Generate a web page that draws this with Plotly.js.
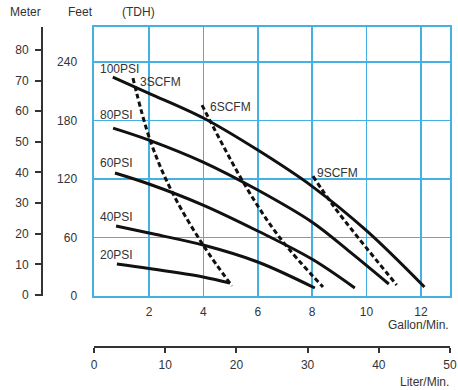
<!DOCTYPE html>
<html><head><meta charset="utf-8">
<script src="https://cdn.plot.ly/plotly-3.0.1.min.js"></script>
<style>html,body{margin:0;padding:0;background:#fff}#chart{width:458px;height:390px}</style>
</head><body><div id="chart"></div>
<script>
// ---- axis ticks ----
const gallonTicks = [2, 4, 6, 8, 10, 12];
const feetTicks = [0, 60, 120, 180, 240];
const meterTicks = [0, 10, 20, 30, 40, 50, 60, 70, 80];
const literTicks = [0, 10, 20, 30, 40, 50];

// ---- performance curves (x: gallon/min, y: feet TDH) ----
const psiNames = ['100PSI', '80PSI', '60PSI', '40PSI', '20PSI'];
const psi100Gpm = [0.67, 2.0, 4.0, 6.0, 8.0, 10.0, 12.13];
const psi100Ft  = [224.6, 208, 182.6, 149.7, 112.5, 67, 9.2];
const psi80Gpm  = [0.68, 2.0, 3.99, 6.0, 7.99, 9.4, 10.82];
const psi80Ft   = [172.3, 160, 137.4, 108.7, 75.9, 45, 12.3];
const psi60Gpm  = [0.75, 2.0, 3.99, 6.0, 7.99, 9.57];
const psi60Ft   = [126.2, 114.9, 93.3, 66.7, 37.9, 8.2];
const psi40Gpm  = [0.79, 2.0, 3.99, 6.0, 8.1];
const psi40Ft   = [71.8, 64.6, 52.3, 34.9, 8.2];
const psi20Gpm  = [0.82, 2.0, 3.99, 4.98];
const psi20Ft   = [32.8, 28.2, 19.5, 13.3];

// ---- air consumption lines ----
const scfmNames = ['3SCFM', '6SCFM', '9SCFM'];
const scfm3Gpm = [1.41, 2.04, 2.85, 3.99, 5.05];
const scfm3Ft  = [223.6, 160, 106.7, 52.3, 10.3];
const scfm6Gpm = [3.95, 5.53, 6.82, 8.4];
const scfm6Ft  = [195.9, 113.8, 59.5, 9.2];
const scfm9Gpm = [8.03, 8.84, 11.11];
const scfm9Ft  = [123, 90.3, 11.3];

const psiX = [psi100Gpm, psi80Gpm, psi60Gpm, psi40Gpm, psi20Gpm];
const psiY = [psi100Ft, psi80Ft, psi60Ft, psi40Ft, psi20Ft];
const scfmX = [scfm3Gpm, scfm6Gpm, scfm9Gpm];
const scfmY = [scfm3Ft, scfm6Ft, scfm9Ft];

const W = 458, H = 390;
const M = {l: 10, r: 8, t: 10, b: 10};
const PW = W - M.l - M.r, PH = H - M.t - M.b;
const px = x => (x - M.l) / PW;
const py = y => (H - M.b - y) / PH;

const FONT = 'Arial, "Liberation Sans", sans-serif';
const TXT = '#333';
const GRID = '#45b0e3';

const traces = [];
psiX.forEach((xs, i) => traces.push({
  x: xs, y: psiY[i], mode: 'lines', name: psiNames[i],
  line: {color: '#111', width: 3, shape: 'spline', smoothing: 1},
  hoverinfo: 'skip', showlegend: false
}));
scfmX.forEach((xs, i) => traces.push({
  x: xs, y: scfmY[i], mode: 'lines', name: scfmNames[i],
  line: {color: '#111', width: 3, dash: '5px,3px', shape: 'spline', smoothing: 1},
  hoverinfo: 'skip', showlegend: false
}));
// anchor traces for the secondary axes
traces.push({x: [], y: [], yaxis: 'y2', mode: 'lines', hoverinfo: 'skip', showlegend: false});
traces.push({x: [], y: [], xaxis: 'x2', mode: 'lines', hoverinfo: 'skip', showlegend: false});

const annotations = [];
const psiShift = [[-15, 8], [-15, 13], [-17, 10], [-18, 9], [-19, 9]];
psiNames.forEach((n, i) => annotations.push({
  x: psiX[i][0], y: psiY[i][0], xref: 'x', yref: 'y', text: n, showarrow: false,
  xanchor: 'left', yanchor: 'middle', xshift: psiShift[i][0], yshift: psiShift[i][1],
  font: {family: FONT, size: 12, color: TXT}
}));
const scfmShift = [[5, -4], [6, -2], [2, 3]];
scfmNames.forEach((n, i) => annotations.push({
  x: scfmX[i][0], y: scfmY[i][0], xref: 'x', yref: 'y', text: n, showarrow: false,
  xanchor: 'left', yanchor: 'middle', xshift: scfmShift[i][0], yshift: scfmShift[i][1],
  font: {family: FONT, size: 12, color: TXT}
}));
const hdr = (t, x, y, xa) => ({
  x: px(x), y: py(y), xref: 'paper', yref: 'paper', text: t, showarrow: false,
  xanchor: xa || 'center', yanchor: 'middle', font: {family: FONT, size: 12, color: TXT}
});
annotations.push(hdr('Meter', 25, 12));
annotations.push(hdr('Feet', 80, 12));
annotations.push(hdr('(TDH)', 138, 12));
annotations.push(hdr('Gallon/Min.', 451, 325, 'right'));
annotations.push(hdr('Liter/Min.', 451, 382, 'right'));

const xDom = [px(93.5), px(450)];
const yDom = [py(296), py(27)];

const layout = {
  width: W, height: H, margin: M,
  paper_bgcolor: '#fff', plot_bgcolor: '#fff',
  showlegend: false, hovermode: false,
  font: {family: FONT, size: 12, color: TXT},
  xaxis: {
    domain: xDom, range: [-0.04, 13.07], anchor: 'y',
    tickvals: gallonTicks, ticks: '', showgrid: true, gridcolor: GRID, gridwidth: 1.5,
    zeroline: false, showline: true, linecolor: GRID, linewidth: 2, mirror: true,
    tickfont: {family: FONT, size: 12, color: TXT}, ticklabelstandoff: 4
  },
  yaxis: {
    domain: yDom, range: [0, 276], anchor: 'x',
    tickvals: feetTicks, ticks: '', showgrid: true, gridcolor: GRID, gridwidth: 1.5,
    zeroline: false, showline: true, linecolor: GRID, linewidth: 2, mirror: true,
    tickfont: {family: FONT, size: 12, color: TXT}, ticklabelstandoff: 12
  },
  yaxis2: {
    overlaying: 'y', anchor: 'free', position: px(42), side: 'left',
    range: [-0.33, 87.5], tickvals: meterTicks, ticks: 'outside', ticklen: 6, tickwidth: 2,
    tickcolor: '#333', showline: true, linecolor: '#333', linewidth: 2,
    showgrid: false, zeroline: false,
    tickfont: {family: FONT, size: 12, color: TXT}, ticklabelstandoff: 4
  },
  xaxis2: {
    overlaying: 'x', anchor: 'free', position: py(347), side: 'bottom',
    domain: xDom, range: [-0.07, 50], tickvals: literTicks, ticks: 'outside', ticklen: 5, tickwidth: 2,
    tickcolor: '#333', showline: true, linecolor: '#333', linewidth: 2,
    showgrid: false, zeroline: false,
    tickfont: {family: FONT, size: 12, color: TXT}, ticklabelstandoff: 2
  },
  annotations: annotations
};

Plotly.newPlot('chart', traces, layout, {staticPlot: true, displayModeBar: false});
</script></body></html>
